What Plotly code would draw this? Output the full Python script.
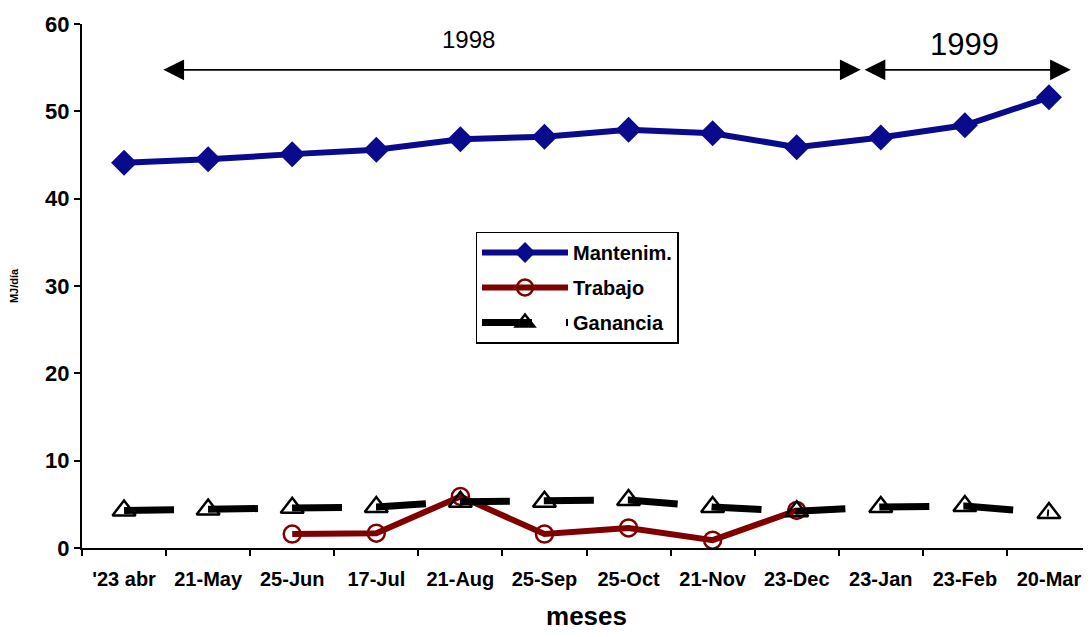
import plotly.graph_objects as go

meses = ["'23 abr", "21-May", "25-Jun", "17-Jul", "21-Aug", "25-Sep",
         "25-Oct", "21-Nov", "23-Dec", "23-Jan", "23-Feb", "20-Mar"]
mantenim = [44.1, 44.5, 45.1, 45.6, 46.8, 47.1, 47.9, 47.5, 45.9, 47.0, 48.4, 51.6]
trabajo = [None, None, 1.6, 1.7, 5.9, 1.6, 2.3, 0.9, 4.3, None, None, None]
ganancia = [4.3, 4.4, 4.6, 4.7, 5.3, 5.3, 5.5, 4.7, 4.2, 4.7, 4.8, 4.0]

FONT = "Liberation Sans, Arial, sans-serif"

fig = go.Figure()
fig.add_trace(go.Scatter(
    x=meses, y=mantenim, name="Mantenim.", mode="lines+markers", legendgroup="a",
    line=dict(color="#0a0a8c", width=6),
    marker=dict(symbol="diamond", size=20, color="#0a0a8c"),
))
fig.add_trace(go.Scatter(
    x=meses, y=trabajo, name="Trabajo", mode="lines+markers", legendgroup="b",
    line=dict(color="#800000", width=6),
    marker=dict(symbol="circle-open", size=17, color="#800000", line=dict(width=2.5)),
))
fig.add_trace(go.Scatter(
    x=meses, y=ganancia, name="Ganancia", mode="lines+markers", legendgroup="c",
    line=dict(color="black", width=7, dash="50px,34px"),
    marker=dict(symbol="triangle-up-open", size=20, color="black", line=dict(width=2.5)),
))

# year arrows
for (x0, x1) in [(0.45, 8.76), (8.79, 11.26)]:
    fig.add_annotation(x=x1, y=54.75, ax=x0, ay=54.75, xref="x", yref="y",
                       axref="x", ayref="y", showarrow=True, arrowside="end+start",
                       arrowhead=2, arrowsize=2.3, arrowwidth=1.8, arrowcolor="black", text="")
fig.add_annotation(x=4.1, y=58.2, xref="x", yref="y", text="1998", showarrow=False,
                   font=dict(family=FONT, size=24, color="black"))
fig.add_annotation(x=10.0, y=57.6, xref="x", yref="y", text="1999", showarrow=False,
                   font=dict(family=FONT, size=31, color="black"))

fig.update_layout(
    width=1083, height=629,
    margin=dict(l=74, r=0, t=16, b=89),
    plot_bgcolor="white", paper_bgcolor="white",
    font=dict(family=FONT, color="black"),
    showlegend=True,
    legend=dict(x=0.39, y=0.604, xanchor="left", yanchor="top",
                bgcolor="white", bordercolor="black", borderwidth=1.5,
                font=dict(family=FONT, size=20, color="black", weight="bold"),
                itemwidth=86, traceorder="grouped", tracegroupgap=6),
    xaxis=dict(type="category", range=[-0.5, 11.5], tickson="boundaries",
               showline=True, linecolor="black", linewidth=2,
               ticks="outside", ticklen=6, tickwidth=2, tickcolor="black",
               showgrid=False, zeroline=False, automargin=False,
               ticklabelstandoff=12,
               tickfont=dict(family=FONT, size=20, color="black", weight="bold"),
               title=dict(text="meses", standoff=18,
                          font=dict(family=FONT, size=26, color="black", weight="bold"))),
    yaxis=dict(range=[0, 60], tickvals=[0, 10, 20, 30, 40, 50, 60],
               showline=True, linecolor="black", linewidth=2,
               ticks="outside", ticklen=6, tickwidth=2, tickcolor="black",
               showgrid=False, zeroline=False, automargin=False,
               tickfont=dict(family=FONT, size=22, color="black", weight="bold"),
               title=dict(text="MJ/día", standoff=24,
                          font=dict(family=FONT, size=11, color="black", weight="bold"))),
)

fig.write_html("out.html")
